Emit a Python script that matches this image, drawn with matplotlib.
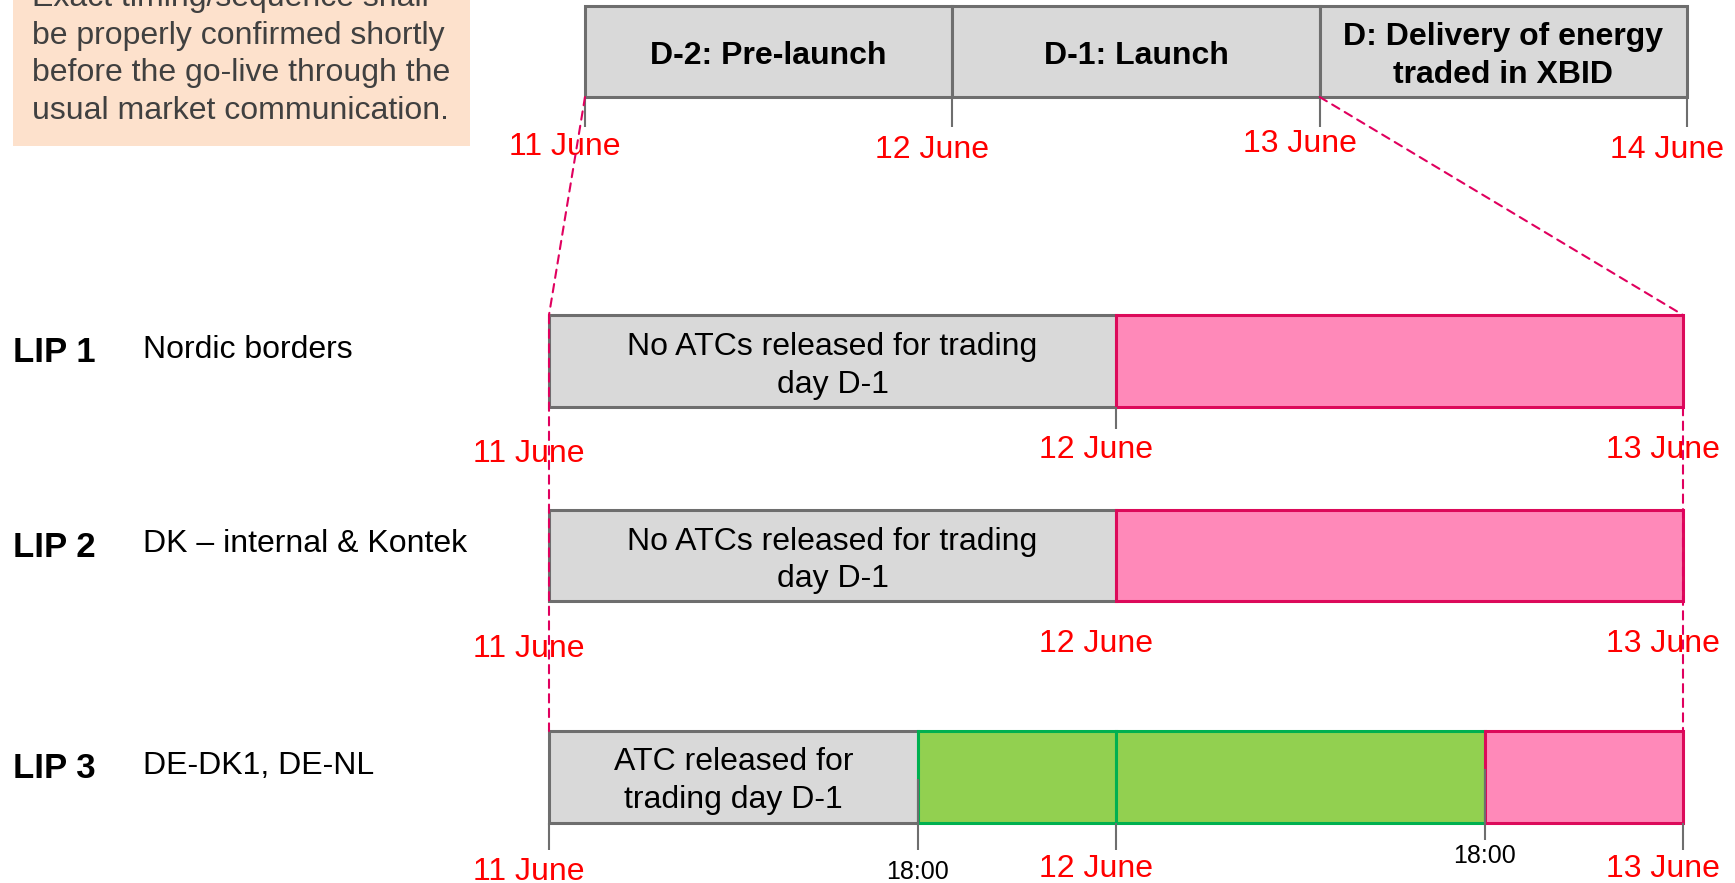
import matplotlib
matplotlib.use("Agg")
import matplotlib.pyplot as plt
from matplotlib.patches import ConnectionPatch, Rectangle

plt.rcParams['font.family'] = ['Liberation Sans', 'DejaVu Sans']

# ---------------- data ----------------
note_text = ("Exact timing/sequence shall\nbe properly confirmed shortly\n"
             "before the go-live through the\nusual market communication.")

top_phases = ["D-2: Pre-launch", "D-1: Launch", "D: Delivery of energy\ntraded in XBID"]
top_phase_start = [0, 1, 2]
top_phase_end = [1, 2, 3]
top_dates = ["11 June", "12 June", "13 June", "14 June"]
top_date_pos = [0, 1, 2, 3]

lip_names = ["LIP 1", "LIP 2", "LIP 3"]
lip_desc = ["Nordic borders", "DK – internal & Kontek", "DE-DK1, DE-NL"]

# segments per row (day units from 11 June, schematic positions as drawn)
lip1_start = [0, 1]
lip1_end = [1, 2]
lip1_kind = ["grey", "pink"]
lip1_text = ["No ATCs released for trading\nday D-1", ""]

lip2_start = [0, 1]
lip2_end = [1, 2]
lip2_kind = ["grey", "pink"]
lip2_text = ["No ATCs released for trading\nday D-1", ""]

lip3_start = [0, 0.65, 1, 1.65]
lip3_end = [0.65, 1, 1.65, 2]
lip3_kind = ["grey", "green", "green", "pink"]
lip3_text = ["ATC released for\ntrading day D-1", "", "", ""]

row_dates = ["11 June", "12 June", "13 June"]
row_date_pos = [0, 1, 2]
lip3_hours = ["18:00", "18:00"]
lip3_hour_pos = [0.65, 1.65]

# ---------------- styles ----------------
W, H = 1735, 883
fig = plt.figure(figsize=(W / 100, H / 100), dpi=100)

FILL = {"grey": "#D9D9D9", "pink": "#FF89B9", "green": "#92D050"}
EDGE = {"grey": "#6E6E6E", "pink": "#DC0A5A", "green": "#00B050"}
RED = "#FF0000"
DASH = "#E0005E"
TICK = "#6E6E6E"
LS = 1.33


def px_axes(x0, y0, x1, y1, xlim):
    ax = fig.add_axes([x0 / W, 1 - y1 / H, (x1 - x0) / W, (y1 - y0) / H])
    ax.set_xlim(*xlim)
    ax.set_ylim(0, 1)
    ax.axis("off")
    ax._pxy = (y0, y1)
    return ax


def ypx(ax, y):
    y0, y1 = ax._pxy
    return (y1 - y) / (y1 - y0)


# note box
note_ax = fig.add_axes([13 / W, 1 - 146 / H, (470 - 13) / W, 146 / H])
note_ax.axis("off")
note_ax.add_patch(Rectangle((0, 0), 1, 1, transform=note_ax.transAxes,
                            facecolor="#FDE1CC", edgecolor="none"))
fig.text(32 / W, 1 - 126 / H, note_text, fontsize=23, color="#404040",
         ha="left", va="bottom", linespacing=LS)

# top timeline
top = px_axes(585, 6, 1687, 97, (0, 3))
top.bar(top_phase_start, 1, width=[e - s for s, e in zip(top_phase_start, top_phase_end)],
        bottom=0, align="edge", color=FILL["grey"], edgecolor=EDGE["grey"],
        linewidth=2.2, clip_on=False)
for s, e, t in zip(top_phase_start, top_phase_end, top_phases):
    top.text((s + e) / 2, ypx(top, 56), t, ha="center", va="center",
             fontsize=23, fontweight="bold", color="black", linespacing=LS)
top.vlines(top_date_pos, ypx(top, 127), 0, color=TICK, linewidth=1.5, clip_on=False)
top_label_y = [147, 150, 144, 150]
for p, t, yy in zip(top_date_pos, top_dates, top_label_y):
    top.text(p - 0.055, ypx(top, yy), t, ha="center", va="center",
             fontsize=23, color=RED)

# LIP rows
rows = [
    (315, 407, lip1_start, lip1_end, lip1_kind, lip1_text),
    (510, 601, lip2_start, lip2_end, lip2_kind, lip2_text),
    (731, 823, lip3_start, lip3_end, lip3_kind, lip3_text),
]
text_shift = [5, 5, 4]
row_axes = []
for i, (y0, y1, st, en, kd, tx) in enumerate(rows):
    ax = px_axes(549, y0, 1683, y1, (0, 2))
    row_axes.append(ax)
    for s, e, k, t in zip(st, en, kd, tx):
        ax.bar(s, 1, width=e - s, bottom=0, align="edge", color=FILL[k],
               edgecolor=EDGE[k], linewidth=2.2, clip_on=False, zorder=2)
        if t:
            ax.text((s + e) / 2, ypx(ax, (y0 + y1) / 2 + text_shift[i]), t,
                    ha="center", va="center", fontsize=23, color="black",
                    linespacing=LS, zorder=3)
    yc = (y0 + y1) / 2
    fig.text(13 / W, 1 - (yc - 8) / H, lip_names[i], fontsize=25,
             fontweight="bold", ha="left", va="center")
    fig.text(143 / W, 1 - (yc - 11) / H, lip_desc[i], fontsize=23,
             ha="left", va="center")

# ticks and labels per row
lip1, lip2, lip3 = row_axes
lip1.vlines([row_date_pos[1]], ypx(lip1, 429), 0, color=TICK, linewidth=1.5, clip_on=False)
lip3.vlines(row_date_pos, ypx(lip3, 850), 0, color=TICK, linewidth=1.5, clip_on=False)
lip3.vlines([lip3_hour_pos[0]], ypx(lip3, 850), ypx(lip3, 779), color=TICK,
            linewidth=1.5, clip_on=False, zorder=4)
lip3.vlines([lip3_hour_pos[1]], ypx(lip3, 840), ypx(lip3, 769), color=TICK,
            linewidth=1.5, clip_on=False, zorder=4)

row_label_y = [(454, 450, 450), (649, 644, 644), (872, 869, 869)]
for ax, ys in zip(row_axes, row_label_y):
    for p, t, yy in zip(row_date_pos, row_dates, ys):
        ax.text(p - 0.035, ypx(ax, yy), t, ha="center", va="center",
                fontsize=23, color=RED)
hour_label_y = [872, 856]
for p, t, yy in zip(lip3_hour_pos, lip3_hours, hour_label_y):
    lip3.text(p, ypx(lip3, yy), t, ha="center", va="center", fontsize=18, color="black")

# dashed connectors
dash_kw = dict(color=DASH, linestyle=(0, (4, 3)), linewidth=1.5, zorder=5)
fig.add_artist(ConnectionPatch(xyA=(0, 0), coordsA="data", axesA=top,
                               xyB=(0, 1), coordsB="data", axesB=lip1, **dash_kw))
fig.add_artist(ConnectionPatch(xyA=(2, 0), coordsA="data", axesA=top,
                               xyB=(2, 1), coordsB="data", axesB=lip1, **dash_kw))
fig.add_artist(ConnectionPatch(xyA=(0, 1), coordsA="data", axesA=lip1,
                               xyB=(0, 1), coordsB="data", axesB=lip3, **dash_kw))
fig.add_artist(ConnectionPatch(xyA=(2, 0), coordsA="data", axesA=lip1,
                               xyB=(2, 1), coordsB="data", axesB=lip3, **dash_kw))

fig.savefig("out.png", dpi=100)
